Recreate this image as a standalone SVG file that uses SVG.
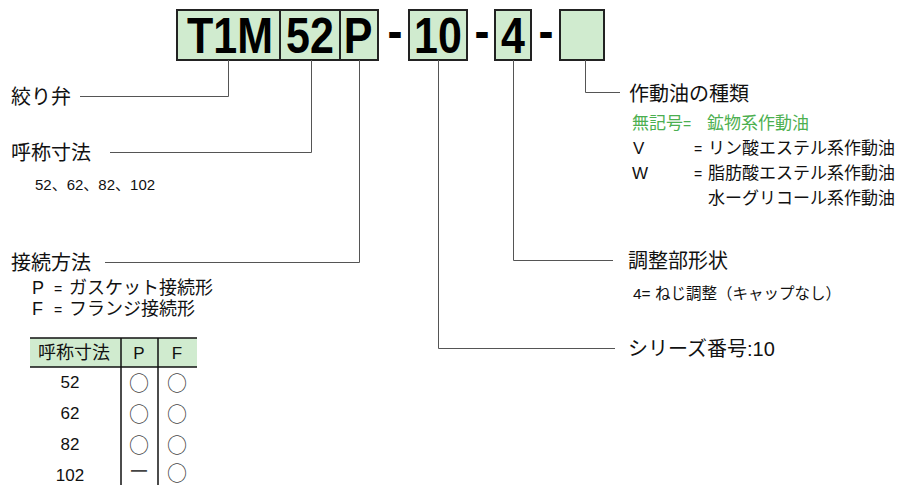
<svg xmlns="http://www.w3.org/2000/svg" width="906" height="485" viewBox="0 0 906 485">
<style>
.bg{fill:#ffffff}
.box{fill:#d0ebcf;stroke:#222;stroke-width:2}
.code{font-family:"Liberation Sans",Arial,sans-serif;font-weight:bold;font-size:50px;fill:#000;text-anchor:middle}
.dash{font-family:"Liberation Sans",Arial,sans-serif;font-weight:bold;font-size:50px;fill:#000;text-anchor:middle}
.lbl{font-family:"Liberation Sans","Noto Sans CJK JP",sans-serif;font-size:20px;fill:#111}
.sub{font-family:"Liberation Sans","Noto Sans CJK JP",sans-serif;font-size:17px;fill:#111}
.subg{font-family:"Liberation Sans","Noto Sans CJK JP",sans-serif;font-size:17px;fill:#4caf50}
.eq{font-size:14px}
.sm{font-family:"Liberation Sans","Noto Sans CJK JP",sans-serif;font-size:15px;fill:#111}
.tb{font-family:"Liberation Sans","Noto Sans CJK JP",sans-serif;font-size:17px;fill:#111;text-anchor:middle}
.mk{font-family:"Noto Sans CJK JP",sans-serif;font-size:20px;fill:#444;text-anchor:middle}
.conn{fill:none;stroke:#555;stroke-width:1}
.grid{fill:none;stroke:#111;stroke-width:1.5}
.hdr{fill:#d0ebcf}
</style>
<rect class="bg" x="0" y="0" width="906" height="485"/>

<g id="code">
  <rect class="box" x="177" y="10" width="103" height="50"/>
  <rect class="box" x="280" y="10" width="60" height="50"/>
  <rect class="box" x="340" y="10" width="38" height="50"/>
  <rect class="box" x="409" y="10" width="58" height="50"/>
  <rect class="box" x="495" y="10" width="36" height="50"/>
  <rect class="box" x="560" y="10" width="44" height="50"/>
  <text class="code" transform="translate(230,53) scale(0.86,1)">T1M</text>
  <text class="code" transform="translate(310,53) scale(0.86,1)">52</text>
  <text class="code" transform="translate(358,53) scale(0.86,1)">P</text>
  <text class="dash" transform="translate(395,48) scale(0.9,1)">-</text>
  <text class="code" transform="translate(438,53) scale(0.86,1)">10</text>
  <text class="dash" transform="translate(482,48) scale(0.9,1)">-</text>
  <text class="code" transform="translate(513,53) scale(0.86,1)">4</text>
  <text class="dash" transform="translate(546,48) scale(0.9,1)">-</text>
</g>

<g id="connectors">
  <polyline class="conn" points="228.5,60 228.5,96.5 80,96.5"/>
  <polyline class="conn" points="311.5,60 311.5,152.5 110,152.5"/>
  <polyline class="conn" points="359.5,60 359.5,262.5 105,262.5"/>
  <polyline class="conn" points="438.5,60 438.5,348.5 615,348.5"/>
  <polyline class="conn" points="513.5,60 513.5,260.5 613,260.5"/>
  <polyline class="conn" points="585.5,60 585.5,92.5 620,92.5"/>
</g>

<g id="node-valve">
  <text class="lbl" x="11" y="103.5">絞り弁</text>
</g>

<g id="node-size">
  <text class="lbl" x="11" y="160">呼称寸法</text>
  <text class="sm" x="35" y="189.5">52、62、82、102</text>
</g>

<g id="node-connection">
  <text class="lbl" x="11" y="269.5">接続方法</text>
  <text class="sub" y="293.5" style="font-size:18px"><tspan x="32">P</tspan><tspan x="54" class="eq">=</tspan><tspan x="69">ガスケット接続形</tspan></text>
  <text class="sub" y="315" style="font-size:18px"><tspan x="32">F</tspan><tspan x="54" class="eq">=</tspan><tspan x="69">フランジ接続形</tspan></text>
</g>

<g id="node-table">
  <rect class="hdr" x="30" y="338" width="167" height="29"/>
  <line class="grid" x1="30" y1="338" x2="197" y2="338"/>
  <line class="grid" x1="30" y1="367" x2="197" y2="367"/>
  <line class="grid" x1="121" y1="338" x2="121" y2="485"/>
  <line class="grid" x1="158" y1="338" x2="158" y2="485"/>
  <text class="tb" x="74" y="359" style="font-size:18px">呼称寸法</text>
  <text class="tb" x="139" y="358.5">P</text>
  <text class="tb" x="177" y="358.5">F</text>
  <text class="tb" x="70" y="388">52</text>
  <text class="tb" x="70" y="419">62</text>
  <text class="tb" x="70" y="450">82</text>
  <text class="tb" x="70" y="481">102</text>
  <text class="mk" x="139" y="390.5">○</text>
  <text class="mk" x="177" y="390.5">○</text>
  <text class="mk" x="139" y="421.5">○</text>
  <text class="mk" x="177" y="421.5">○</text>
  <text class="mk" x="139" y="452.5">○</text>
  <text class="mk" x="177" y="452.5">○</text>
  <text class="mk" x="139" y="479">ー</text>
  <text class="mk" x="177" y="480.5">○</text>
</g>

<g id="node-oil">
  <text class="lbl" x="629" y="100.5">作動油の種類</text>
  <text class="subg" y="128.5"><tspan x="632">無記号</tspan><tspan class="eq">=</tspan><tspan x="707">鉱物系作動油</tspan></text>
  <text class="sub" y="153.5"><tspan x="633">V</tspan><tspan x="694" class="eq">=</tspan><tspan x="708">リン酸エステル系作動油</tspan></text>
  <text class="sub" y="178.5"><tspan x="632">W</tspan><tspan x="694" class="eq">=</tspan><tspan x="708">脂肪酸エステル系作動油</tspan></text>
  <text class="sub" x="708" y="203.5">水ーグリコール系作動油</text>
</g>

<g id="node-adjust">
  <text class="lbl" x="628" y="267.5">調整部形状</text>
  <text class="sm" x="633" y="299" style="font-size:15.5px">4= ねじ調整（キャップなし）</text>
</g>

<g id="node-series">
  <text class="lbl" x="628" y="355.5">シリーズ番号:10</text>
</g>
</svg>
